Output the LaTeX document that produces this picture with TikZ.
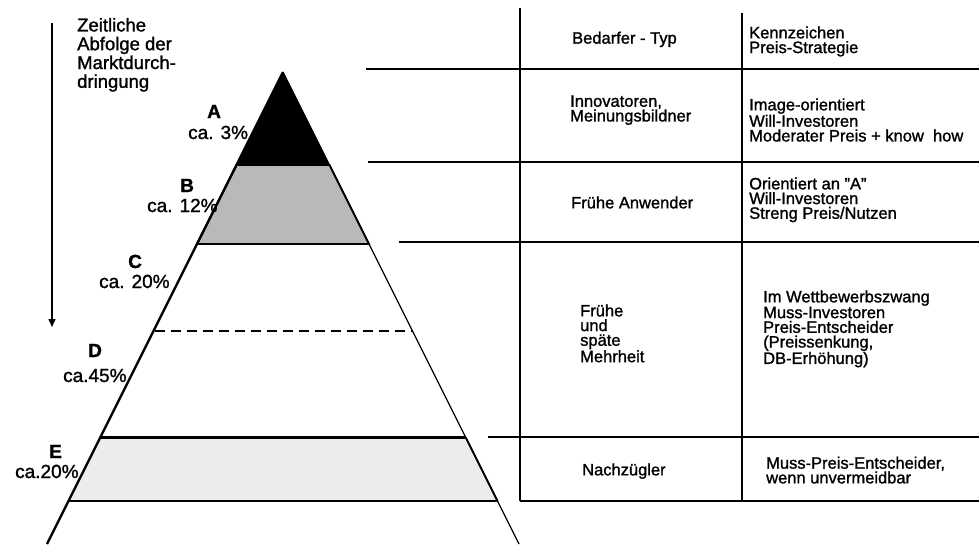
\documentclass[tikz,border=0pt]{standalone}
\usepackage{fontspec}
\setmainfont[FakeBold=1.3]{Liberation Sans}
\usetikzlibrary{arrows.meta}
\definecolor{segB}{RGB}{185,185,185}
\definecolor{segE}{RGB}{236,236,236}
\begin{document}
\begin{tikzpicture}[x=1pt,y=-1pt,
  lbl/.style={anchor=base west,inner sep=0pt,font=\fontsize{19}{19}\selectfont},
  seg/.style={anchor=base west,inner sep=0pt,font=\fontsize{19}{19}\selectfont\bfseries},
  cell/.style={anchor=north west,inner sep=0pt,align=left,font=\fontsize{16.5}{14.7}\selectfont},
  rule/.style={line width=1.3pt},
  post/.style={line width=2pt},
  flank/.style={line width=1.2pt},
  band/.style={line width=1.8pt},
]
\useasboundingbox (0,0) rectangle (979,544);

% ---------- pyramid ----------
\coordinate (apex) at (283,72);
\coordinate (lfoot) at (47,544);
\coordinate (rfoot) at (519,544);
% segment A (black)
\fill[black] (apex) -- (236.5,165) -- (329.5,165) -- cycle;
% segment B (grey)
\filldraw[fill=segB,band] (236.5,165) -- (329.5,165) -- (369,244) -- (197,244) -- cycle;
% segment E (light grey)
\fill[segE] (100.25,437.5) -- (465.75,437.5) -- (497.5,501) -- (68.5,501) -- cycle;
\draw[band] (465.75,437.5) -- (497.5,501);
% flanks
\draw[line width=2.4pt] (apex) -- (lfoot);
\draw[flank] (apex) -- (rfoot);
% layer boundaries
\coordinate (bl) at (197,244);   \coordinate (br) at (369,244);
\coordinate (cl) at (154.5,331); \coordinate (cr) at (412.5,331);
\coordinate (dl) at (100.25,437.5); \coordinate (dr) at (465.75,437.5);
\coordinate (el) at (68.5,501);  \coordinate (er) at (497.5,501);
\draw[line width=2pt] (bl) -- (br);
\draw[line width=2pt,dash pattern=on 10pt off 6pt] (cl) -- (cr);
\draw[line width=3pt] (dl) -- (dr);
\draw[line width=2pt] (el) -- (er);

% ---------- segment labels ----------
\node[seg] (sA) at (207,118) {A};
\node[lbl] (pA) at (188,139) {ca. 3\%};
\node[seg] (sB) at (180,192) {B};
\node[lbl] (pB) at (147,212) {ca. 12\%};
\node[seg] (sC) at (128,268) {C};
\node[lbl] (pC) at (99,288) {ca. 20\%};
\node[seg] (sD) at (88,357) {D};
\node[lbl] (pD) at (63,382) {ca.45\%};
\node[seg] (sE) at (49,458) {E};
\node[lbl] (pE) at (15,478) {ca.20\%};

% ---------- time axis ----------
\coordinate (tstart) at (52,23);
\coordinate (tend) at (52,327);
\draw[line width=1.5pt,-{Triangle[length=8pt,width=7pt]}] (tstart) -- (tend);
\node[anchor=north west,inner sep=0pt,align=left,font=\fontsize{18.5}{18.8}\selectfont] (title) at (77,17.8)
  {Zeitliche\\Abfolge der\\Marktdurch-\\dringung};

% ---------- table ----------
\coordinate (v1t) at (520,8);   \coordinate (v1b) at (520,501);
\coordinate (v2t) at (742,13);  \coordinate (v2b) at (742,501);
\coordinate (h1l) at (366,69);  \coordinate (h1r) at (979,69);
\coordinate (h2l) at (368,162); \coordinate (h2r) at (979,162);
\coordinate (h3l) at (399,242); \coordinate (h3r) at (979,242);
\coordinate (h4l) at (488,437); \coordinate (h4r) at (979,437);
\coordinate (h5r) at (979,501);
\draw[post] (v1t) -- (v1b);
\draw[post] (v2t) -- (v2b);
\draw[rule] (h1l) -- (h1r);
\draw[rule] (h2l) -- (h2r);
\draw[rule] (h3l) -- (h3r);
\draw[rule] (h4l) -- (h4r);
\draw[line width=2.5pt] (v1b) -- (h5r);

\node[cell] (typ0) at (572,31.5) {Bedarfer - Typ};
\node[cell] (kz0) at (749,26.2) {Kennzeichen\\Preis-Strategie};
\node[cell] (typ1) at (570,95.2) {Innovatoren,\\Meinungsbildner};
\node[cell] (kz1) at (749,98.2) {Image-orientiert\\Will-Investoren\\Moderater Preis + know\ \ how};
\node[cell] (typ2) at (571,196.2) {Frühe Anwender};
\node[cell] (kz2) at (749,177.2) {Orientiert an \symbol{34}A\symbol{34}\\Will-Investoren\\Streng Preis/Nutzen};
\node[cell] (typ3) at (580,304.2) {Frühe\\und\\späte\\Mehrheit};
\node[cell] (kz3) at (763,290.2) {Im Wettbewerbszwang\\Muss-Investoren\\Preis-Entscheider\\(Preissenkung,\\DB-Erhöhung)};
\node[cell] (typ4) at (582,463.2) {Nachzügler};
\node[cell] (kz4) at (766,456.5) {Muss-Preis-Entscheider,\\wenn unvermeidbar};
\end{tikzpicture}
\end{document}
